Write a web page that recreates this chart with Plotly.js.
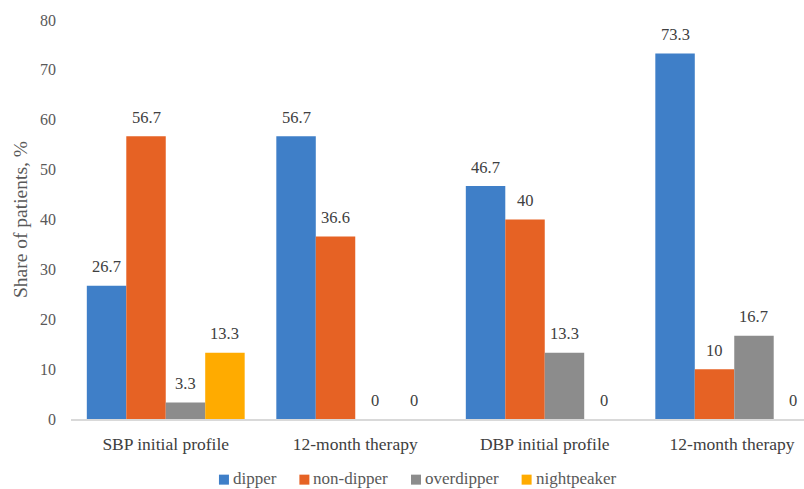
<!DOCTYPE html>
<html>
<head>
<meta charset="utf-8">
<script src="https://cdn.plot.ly/plotly-3.0.1.min.js"></script>
<style>
  html, body { margin: 0; padding: 0; background: #fff; overflow: hidden; }
  #chart { width: 860px; height: 489px; }
</style>
</head>
<body>
<div id="chart"></div>
<script>
// Circadian blood-pressure profiles, share of patients (%)
const categories = ['SBP initial profile', '12-month therapy', 'DBP initial profile', '12-month therapy '];
const seriesNames = ['dipper', 'non-dipper', 'overdipper', 'nightpeaker'];
const dipper      = [26.7, 56.7, 46.7, 73.3];
const nonDipper   = [56.7, 36.6, 40, 10];
const overdipper  = [3.3, 0, 13.3, 16.7];
const nightpeaker = [13.3, 0, 0, 0];
const yTicks = [0, 10, 20, 30, 40, 50, 60, 70, 80];

const seriesValues = [dipper, nonDipper, overdipper, nightpeaker];
const colors = ['#3F7FC8', '#E66224', '#8C8C8C', '#FFAB00'];
const FAMILY = 'Liberation Serif';
const FONT = '"Liberation Serif", "Times New Roman", Times, serif';
const BARGAP = 0.167;

const catIdx = categories.map((_, i) => i);

const traces = seriesValues.map((vals, k) => ({
  type: 'bar',
  name: seriesNames[k],
  x: catIdx,
  y: vals,
  marker: { color: colors[k] },
  hoverinfo: 'skip',
  showlegend: false
}));

// value labels sit above each bar, centred on its group slot
const nSeries = seriesValues.length;
const slot = (1 - BARGAP) / nSeries;
const annotations = [];
const shapes = [];
seriesValues.forEach((vals, k) => {
  const off = -(1 - BARGAP) / 2 + (k + 0.5) * slot;
  vals.forEach((v, i) => {
    annotations.push({
      x: i + off, y: v, xref: 'x', yref: 'y',
      text: String(v), showarrow: false,
      yanchor: 'middle', yshift: 19,
      font: { family: FONT, size: 16.5, color: '#404040' }
    });
  });
});

// compact horizontal key below the axis: small swatch, then the series name
const LEG_FS = 17, SW = 10, SG = 4, IG = 23;
const LEG_X = 0.457, LEG_Y = -0.152;
const ctx = document.createElement('canvas').getContext('2d');
ctx.font = LEG_FS + 'px "' + FAMILY + '"';
const nameW = seriesNames.map(n => ctx.measureText(n).width);
const total = nameW.reduce((a, w) => a + SW + SG + w, 0) + IG * (nSeries - 1);
let cur = -total / 2;
seriesNames.forEach((name, k) => {
  shapes.push({
    type: 'rect', xref: 'paper', yref: 'paper',
    xsizemode: 'pixel', ysizemode: 'pixel',
    xanchor: LEG_X, yanchor: LEG_Y,
    x0: cur, x1: cur + SW, y0: -5, y1: 5,
    fillcolor: colors[k], line: { width: 0 }
  });
  annotations.push({
    x: LEG_X, y: LEG_Y, xref: 'paper', yref: 'paper',
    xanchor: 'left', yanchor: 'middle', xshift: cur + SW + SG - 2, yshift: 1,
    text: name, showarrow: false,
    font: { family: FONT, size: LEG_FS, color: '#595959' }
  });
  cur += SW + SG + nameW[k] + IG;
});

const layout = {
  width: 860, height: 489,
  font: { family: FONT },
  margin: { l: 70.5, r: 31, t: 19.5, b: 69.7, autoexpand: false },
  paper_bgcolor: '#ffffff', plot_bgcolor: '#ffffff',
  barmode: 'group', bargap: BARGAP, bargroupgap: 0,
  showlegend: false,
  xaxis: {
    type: 'linear', range: [-0.5, categories.length - 0.5],
    tickvals: catIdx, ticktext: categories,
    showgrid: false, zeroline: false, showline: true,
    linecolor: '#D9D9D9', linewidth: 1.5, ticks: '',
    ticklabelstandoff: 8, automargin: false,
    tickfont: { family: FONT, size: 17.5, color: '#404040' }
  },
  yaxis: {
    range: [0, 80], tickvals: yTicks,
    showgrid: false, zeroline: false, showline: false, ticks: '',
    ticklabelstandoff: 14, automargin: false,
    tickfont: { family: FONT, size: 16, color: '#595959' },
    title: { text: 'Share of patients, %', standoff: 7,
             font: { family: FONT, size: 19.5, color: '#595959' } }
  },
  shapes: shapes,
  annotations: annotations
};

Plotly.newPlot('chart', traces, layout, { displayModeBar: false, staticPlot: true });
</script>
</body>
</html>
